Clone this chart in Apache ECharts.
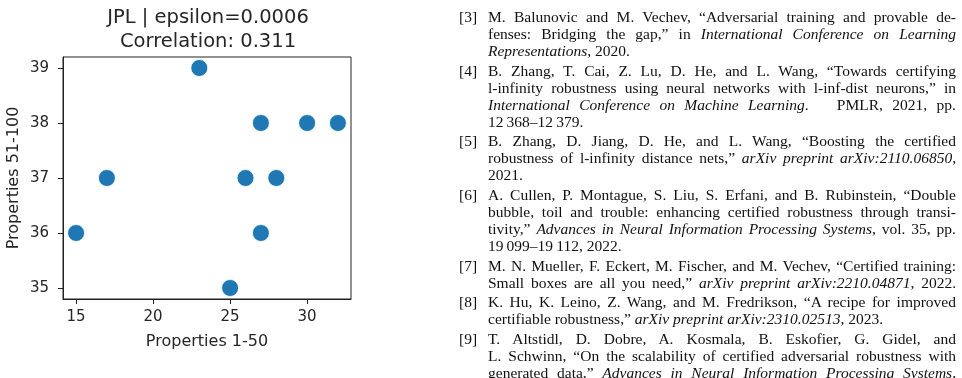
<!DOCTYPE html>
<html>
<head>
<meta charset="utf-8">
<script src="https://cdn.jsdelivr.net/npm/echarts@6/dist/echarts.min.js"></script>
<style>
  html, body { margin:0; padding:0; background:#fff; width:962px; height:378px; overflow:hidden; }
  #chart { position:absolute; left:0; top:0; width:962px; height:378px; }
  #refs { position:absolute; left:459px; top:8px; width:497px; font-family:'Liberation Serif','Times New Roman',serif; font-size:15.5px; line-height:17px; color:#111; }
  .para { position:relative; margin-bottom:2.7px; }
  .lab { position:absolute; left:0; top:0; }
  .ln { margin-left:29px; width:468px; white-space:nowrap; text-align:justify; text-align-last:justify; }
  .ln.last { text-align:left; text-align-last:left; }
</style>
</head>
<body>
<div id="chart"></div>
<div id="refs"></div>
<script>
// ---- scatter data ----
const xValues = [23, 27, 30, 32, 17, 26, 28, 15, 27, 25];
const yValues = [39, 38, 38, 38, 37, 37, 37, 36, 36, 35];
const xTicks = [15, 20, 25, 30];
const yTicks = [35, 36, 37, 38, 39];
const titleLines = ['JPL | epsilon=0.0006', 'Correlation: 0.311'];
const xLabel = 'Properties 1-50';
const yLabel = 'Properties 51-100';

// ---- reference list text ----
const refLabels = ['[3]', '[4]', '[5]', '[6]', '[7]', '[8]', '[9]'];
const refLines = [
  ['M. Balunovic and M. Vechev, \u201cAdversarial training and provable de-',
   'fenses: Bridging the gap,\u201d in <i>International Conference on Learning</i>',
   '<i>Representations</i>, 2020.'],
  ['B. Zhang, T. Cai, Z. Lu, D. He, and L. Wang, \u201cTowards certifying',
   'l-infinity robustness using neural networks with l-inf-dist neurons,\u201d in',
   '<i>International Conference on Machine Learning</i>. &nbsp; PMLR, 2021, pp.',
   '12\u2009368\u201312\u2009379.'],
  ['B. Zhang, D. Jiang, D. He, and L. Wang, \u201cBoosting the certified',
   'robustness of l-infinity distance nets,\u201d <i>arXiv preprint arXiv:2110.06850</i>,',
   '2021.'],
  ['A. Cullen, P. Montague, S. Liu, S. Erfani, and B. Rubinstein, \u201cDouble',
   'bubble, toil and trouble: enhancing certified robustness through transi-',
   'tivity,\u201d <i>Advances in Neural Information Processing Systems</i>, vol. 35, pp.',
   '19\u2009099\u201319\u2009112, 2022.'],
  ['M. N. Mueller, F. Eckert, M. Fischer, and M. Vechev, \u201cCertified training:',
   'Small boxes are all you need,\u201d <i>arXiv preprint arXiv:2210.04871</i>, 2022.'],
  ['K. Hu, K. Leino, Z. Wang, and M. Fredrikson, \u201cA recipe for improved',
   'certifiable robustness,\u201d <i>arXiv preprint arXiv:2310.02513</i>, 2023.'],
  ['T. Altstidl, D. Dobre, A. Kosmala, B. Eskofier, G. Gidel, and',
   'L. Schwinn, \u201cOn the scalability of certified adversarial robustness with',
   'generated data,\u201d <i>Advances in Neural Information Processing Systems</i>,']
];
const unjustified = { '0-2':1, '1-3':1, '2-2':1, '3-3':1, '5-1':1 };

const refs = document.getElementById('refs');
refLines.forEach((lines, p) => {
  const d = document.createElement('div');
  d.className = 'para';
  let html = '<span class="lab">' + refLabels[p] + '</span>';
  lines.forEach((t, i) => {
    html += '<div class="ln' + (unjustified[p + '-' + i] ? ' last' : '') + '">' + t + '</div>';
  });
  d.innerHTML = html;
  refs.appendChild(d);
});

// ---- chart ----
const chart = echarts.init(document.getElementById('chart'), null, { renderer: 'canvas' });
const font = 'DejaVu Sans';
const dark = '#262626';
chart.setOption({
  animation: false,
  textStyle: { fontFamily: font },
  title: {
    text: titleLines.join('\n'),
    left: 203, top: 1, textAlign: 'center',
    textStyle: { fontFamily: font, fontSize: 19.5, fontWeight: 'normal', color: dark, lineHeight: 24 }
  },
  grid: { left: 63, top: 57, width: 288, height: 242, show: true, borderColor: '#222', borderWidth: 1, containLabel: false },
  xAxis: {
    type: 'value', min: 14.15, max: 32.85,
    name: xLabel, nameLocation: 'middle', nameGap: 35,
    nameTextStyle: { fontFamily: font, fontSize: 16, color: dark },
    axisLine: { show: true, lineStyle: { color: '#222' } },
    axisTick: { show: true, length: 5, lineStyle: { color: '#222' }, customValues: xTicks },
    axisLabel: { fontFamily: font, fontSize: 15, color: dark, margin: 11, customValues: xTicks },
    splitLine: { show: false }
  },
  yAxis: {
    type: 'value', min: 34.8, max: 39.2,
    name: yLabel, nameLocation: 'middle', nameGap: 41, nameRotate: 90,
    nameTextStyle: { fontFamily: font, fontSize: 16, color: dark },
    axisLine: { show: true, lineStyle: { color: '#222' } },
    axisTick: { show: true, length: 5, lineStyle: { color: '#222' }, customValues: yTicks },
    axisLabel: { fontFamily: font, fontSize: 15, color: dark, margin: 14, customValues: yTicks },
    splitLine: { show: false }
  },
  series: [{
    type: 'scatter',
    data: xValues.map((x, i) => [x, yValues[i]]),
    symbolSize: 17,
    itemStyle: { color: '#1f77b4', borderColor: '#ffffff', borderWidth: 0.8, opacity: 1 },
    emphasis: { disabled: true }
  }]
});
</script>
</body>
</html>
